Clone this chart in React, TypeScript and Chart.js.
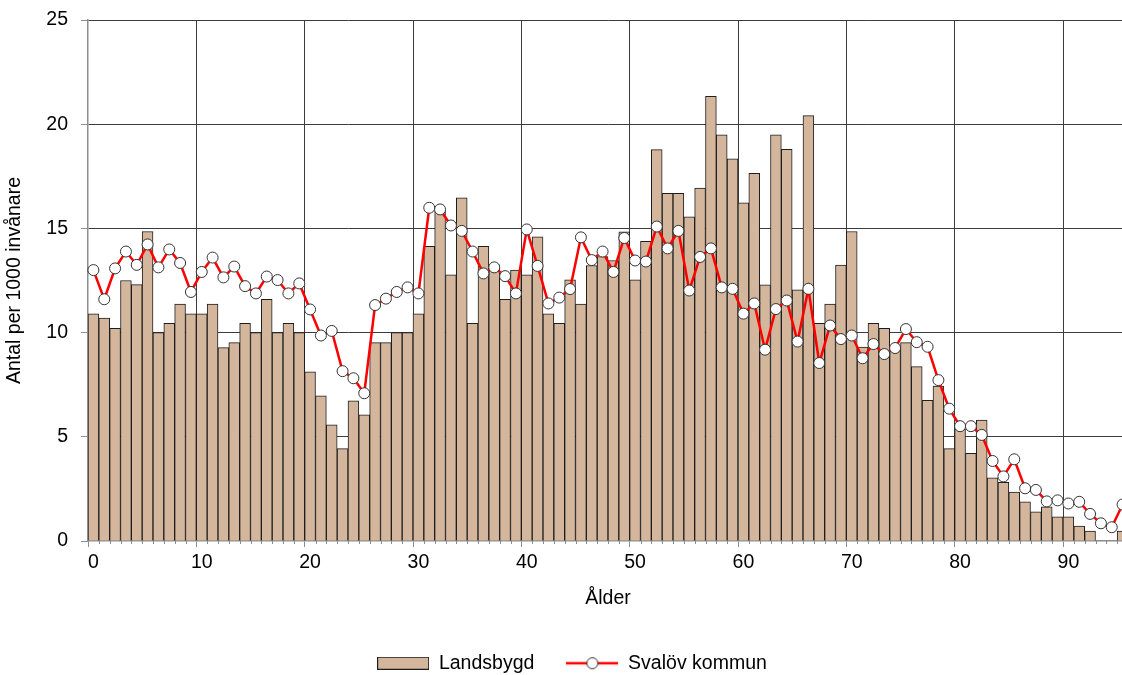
import React, { useEffect, useRef } from "react";
import { Chart, registerables } from "chart.js";

Chart.register(...registerables);

// Ages (x categories)
const ages = [
  "0", "1", "2", "3", "4", "5", "6", "7", "8", "9",
  "10", "11", "12", "13", "14", "15", "16", "17", "18", "19",
  "20", "21", "22", "23", "24", "25", "26", "27", "28", "29",
  "30", "31", "32", "33", "34", "35", "36", "37", "38", "39",
  "40", "41", "42", "43", "44", "45", "46", "47", "48", "49",
  "50", "51", "52", "53", "54", "55", "56", "57", "58", "59",
  "60", "61", "62", "63", "64", "65", "66", "67", "68", "69",
  "70", "71", "72", "73", "74", "75", "76", "77", "78", "79",
  "80", "81", "82", "83", "84", "85", "86", "87", "88", "89",
  "90", "91", "92", "93", "94", "95",
];

// Labelled ticks on the x axis
const xTickLabels = ["0", "10", "20", "30", "40", "50", "60", "70", "80", "90"];

// Landsbygd (bars), per 1000 inhabitants
const landsbygd = [
  10.9, 10.7, 10.2, 12.5, 12.3, 14.85, 10.0, 10.45, 11.37, 10.9,
  10.9, 11.37, 9.28, 9.52, 10.45, 10.0, 11.6, 10.0, 10.45, 10.0,
  8.12, 6.97, 5.58, 4.43, 6.73, 6.06, 9.52, 9.52, 10.0, 10.0,
  10.9, 14.14, 15.82, 12.77, 16.47, 10.45, 14.14, 13.25, 11.6, 13.0,
  12.77, 14.6, 10.9, 10.45, 12.53, 11.37, 13.22, 13.65, 13.46, 14.83,
  12.53, 14.38, 18.78, 16.68, 16.68, 15.55, 16.93, 21.34, 19.49, 18.34,
  16.23, 17.64, 12.29, 19.49, 18.8, 12.05, 20.41, 10.45, 11.37, 13.24,
  14.85, 9.3, 10.45, 10.2, 9.28, 9.52, 8.37, 6.75, 7.43, 4.43,
  5.38, 4.21, 5.8, 3.03, 2.81, 2.35, 1.88, 1.4, 1.64, 1.16,
  1.16, 0.72, 0.48, 0, 0, 0.48,
];

// Svalöv kommun (line)
const svalov = [
  13.0, 11.6, 13.08, 13.89, 13.25, 14.23, 13.13, 13.99, 13.34, 11.95,
  12.91, 13.6, 12.65, 13.17, 12.23, 11.88, 12.69, 12.52, 11.88, 12.36,
  11.11, 9.86, 10.08, 8.15, 7.81, 7.09, 11.32, 11.63, 11.95, 12.17,
  11.88, 15.99, 15.91, 15.14, 14.88, 13.89, 12.84, 13.13, 12.71, 11.88,
  14.95, 13.2, 11.4, 11.68, 12.09, 14.57, 13.48, 13.89, 12.91, 14.54,
  13.46, 13.41, 15.09, 14.04, 14.88, 12.02, 13.63, 14.04, 12.17, 12.1,
  10.91, 11.4, 9.18, 11.13, 11.54, 9.57, 12.1, 8.54, 10.34, 9.69,
  9.86, 8.77, 9.45, 8.97, 9.26, 10.17, 9.54, 9.32, 7.72, 6.35,
  5.51, 5.51, 5.09, 3.84, 3.1, 3.92, 2.53, 2.45, 1.9, 1.95,
  1.8, 1.88, 1.3, 0.85, 0.66, 1.75,
];

const yTicks = [0, 5, 10, 15, 20, 25];

const BAR_FILL = "#D3B69C";
const BAR_EDGE = "#1e1e1e";
const LINE_RED = "#FF0000";
const GRID = "#3c3c3c";
const AXIS = "#8c8c8c";
const FONT_FAMILY = "'Liberation Sans', Arial, sans-serif";
const FONT_SIZE = 19.5;

function makeBoxImage(): HTMLCanvasElement {
  const c = document.createElement("canvas");
  c.width = 52;
  c.height = 13;
  const g = c.getContext("2d")!;
  g.fillStyle = BAR_FILL;
  g.fillRect(0.5, 0.5, 51, 12);
  g.strokeStyle = BAR_EDGE;
  g.lineWidth = 1;
  g.strokeRect(0.5, 0.5, 51, 12);
  return c;
}

function makeLineImage(): HTMLCanvasElement {
  const c = document.createElement("canvas");
  c.width = 52;
  c.height = 14;
  const g = c.getContext("2d")!;
  g.strokeStyle = LINE_RED;
  g.lineWidth = 2.5;
  g.beginPath();
  g.moveTo(0, 7);
  g.lineTo(52, 7);
  g.stroke();
  g.beginPath();
  g.arc(26, 7, 5.5, 0, Math.PI * 2);
  g.fillStyle = "#ffffff";
  g.fill();
  g.strokeStyle = "#333333";
  g.lineWidth = 1;
  g.stroke();
  return c;
}

// Small minor tick marks at every category boundary of the x axis
const minorTicks = {
  id: "minorTicks",
  afterDraw(chart: any) {
    const xs = chart.scales.x;
    if (!xs) return;
    const ctx = chart.ctx;
    const n = xs.ticks.length;
    ctx.save();
    ctx.strokeStyle = AXIS;
    ctx.lineWidth = 1;
    ctx.beginPath();
    for (let i = 1; i < n; i++) {
      if (i % 10 === 0) continue;
      const edge = (xs.getPixelForTick(i) + xs.getPixelForTick(i - 1)) / 2;
      const px = Math.round(edge) + 0.5;
      ctx.moveTo(px, xs.top);
      ctx.lineTo(px, xs.top + 3);
    }
    ctx.stroke();
    ctx.restore();
  },
};

export default function App() {
  const canvasRef = useRef<HTMLCanvasElement | null>(null);

  useEffect(() => {
    if (!canvasRef.current) return;
    const boxImg = makeBoxImage();
    const lineImg = makeLineImage();
    const font = { family: FONT_FAMILY, size: FONT_SIZE };

    const chart = new Chart(canvasRef.current, {
      type: "bar",
      data: {
        labels: ages,
        datasets: [
          {
            type: "bar",
            label: "Landsbygd",
            data: landsbygd,
            backgroundColor: BAR_FILL,
            borderColor: BAR_EDGE,
            borderWidth: 1,
            barPercentage: 1,
            categoryPercentage: 1,
            order: 2,
          },
          {
            type: "line",
            label: "Svalöv kommun",
            data: svalov,
            borderColor: LINE_RED,
            borderWidth: 2.5,
            tension: 0,
            pointRadius: 5.5,
            pointBackgroundColor: "#ffffff",
            pointBorderColor: "#333333",
            pointBorderWidth: 1,
            order: 1,
          },
        ],
      } as any,
      options: {
        responsive: false,
        animation: false,
        devicePixelRatio: 1,
        layout: { padding: { left: 16, right: 16, top: 20, bottom: 0 } },
        plugins: {
          tooltip: { enabled: false },
          legend: {
            position: "bottom",
            labels: {
              font,
              color: "#000",
              padding: 32,
              usePointStyle: true,
              pointStyleWidth: 52,
              generateLabels: () => [
                {
                  text: "Landsbygd",
                  pointStyle: boxImg as any,
                  fillStyle: BAR_FILL,
                  strokeStyle: BAR_EDGE,
                  lineWidth: 0,
                  hidden: false,
                  datasetIndex: 0,
                  fontColor: "#000",
                },
                {
                  text: "Svalöv kommun",
                  pointStyle: lineImg as any,
                  fillStyle: "#fff",
                  strokeStyle: LINE_RED,
                  lineWidth: 0,
                  hidden: false,
                  datasetIndex: 1,
                  fontColor: "#000",
                },
              ],
            },
          },
        },
        scales: {
          x: {
            offset: true,
            grid: {
              offset: true,
              display: true,
              drawTicks: true,
              tickLength: 6,
              color: (ctx: any) =>
                ctx.index % 10 === 0 && ctx.index !== 0 ? GRID : "rgba(0,0,0,0)",
              tickColor: (ctx: any) => (ctx.index % 10 === 0 ? AXIS : "rgba(0,0,0,0)"),
              lineWidth: 1,
            },
            border: { display: true, color: AXIS, width: 1.5 },
            ticks: {
              autoSkip: false,
              maxRotation: 0,
              minRotation: 0,
              padding: 4.3,
              font,
              color: "#000",
              callback: (_v: any, i: number) =>
                xTickLabels.includes(ages[i]) ? ages[i] : "",
            },
            title: {
              display: true,
              text: "Ålder",
              font,
              color: "#000",
              padding: { top: 8.3, bottom: 10.8 },
            },
          },
          y: {
            min: yTicks[0],
            max: yTicks[yTicks.length - 1],
            afterFit: (scale: any) => {
              scale.width = 72;
              scale.paddingTop = 0;
              scale.paddingBottom = 0;
            },
            afterBuildTicks: (scale: any) => {
              scale.ticks = yTicks.map((v) => ({ value: v }));
            },
            grid: {
              color: (ctx: any) => (ctx.tick && ctx.tick.value === 0 ? "rgba(0,0,0,0)" : GRID),
              tickColor: AXIS,
              tickLength: 7,
              lineWidth: 1,
            },
            border: { display: true, color: AXIS, width: 1.5 },
            ticks: {
              padding: 13,
              font,
              color: "#000",
            },
            title: {
              display: true,
              text: "Antal per 1000 invånare",
              font,
              color: "#000",
              padding: { top: -12.7, bottom: 0 },
            },
          },
        },
      } as any,
      plugins: [minorTicks],
    });

    return () => chart.destroy();
  }, []);

  return (
    <div
      style={{
        position: "fixed",
        left: 0,
        top: 0,
        width: 1122,
        height: 675,
        overflow: "hidden",
        background: "#fff",
      }}
    >
      <canvas ref={canvasRef} width={1144} height={683} style={{ display: "block" }} />
    </div>
  );
}
